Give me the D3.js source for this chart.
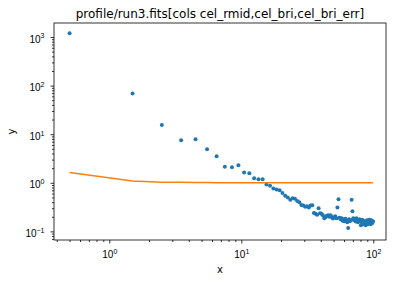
<!DOCTYPE html>
<html>
<head>
<meta charset="utf-8">
<script src="https://cdn.jsdelivr.net/npm/d3@7"></script>
<style>
  body { margin: 0; background: #fff; }
  svg { display: block; font-family: "DejaVu Sans", sans-serif; }
</style>
</head>
<body>
<div id="chart"></div>
<script>
var title = "profile/run3.fits[cols cel_rmid,cel_bri,cel_bri_err]"

// cel_rmid
var rmid = [
    0.5, 1.5, 2.5, 3.5, 4.5, 5.5, 6.5, 7.5, 8.5, 9.5,
    10.5, 11.5, 12.5, 13.5, 14.5, 15.5, 16.5, 17.5, 18.5, 19.5,
    20.5, 21.5, 22.5, 23.5, 24.5, 25.5, 26.5, 27.5, 28.5, 29.5,
    30.5, 31.5, 32.5, 33.5, 34.5, 35.5, 36.5, 37.5, 38.5, 39.5,
    40.5, 41.5, 42.5, 43.5, 44.5, 45.5, 46.5, 47.5, 48.5, 49.5,
    50.5, 51.5, 52.5, 53.5, 54.5, 55.5, 56.5, 57.5, 58.5, 59.5,
    60.5, 61.5, 62.5, 63.5, 64.5, 65.5, 66.5, 67.5, 68.5, 69.5,
    70.5, 71.5, 72.5, 73.5, 74.5, 75.5, 76.5, 77.5, 78.5, 79.5,
    80.5, 81.5, 82.5, 83.5, 84.5, 85.5, 86.5, 87.5, 88.5, 89.5,
    90.5, 91.5, 92.5, 93.5, 94.5, 95.5, 96.5, 97.5, 98.5, 99.5
]

// cel_bri
var bri = [
    1190, 69, 15.5, 7.5, 7.85, 4.9, 3.5, 2.15, 2.08, 2.29,
    1.62, 1.57, 1.24, 1.18, 1.18, 0.92, 0.87, 0.76, 0.73, 0.70,
    0.62, 0.54, 0.50, 0.45, 0.48, 0.47, 0.42, 0.40, 0.35, 0.34,
    0.32, 0.33, 0.31, 0.34, 0.345, 0.24, 0.23, 0.22, 0.30, 0.236,
    0.23, 0.215, 0.187, 0.196, 0.21, 0.215, 0.20, 0.215, 0.196, 0.184,
    0.196, 0.205, 0.187, 0.31, 0.46, 0.19, 0.178, 0.187, 0.166, 0.178,
    0.162, 0.183, 0.17, 0.155, 0.118, 0.178, 0.162, 0.17, 0.45, 0.26,
    0.187, 0.17, 0.178, 0.159, 0.187, 0.17, 0.155, 0.162, 0.178, 0.166,
    0.134, 0.155, 0.174, 0.14, 0.162, 0.148, 0.162, 0.134, 0.151, 0.17,
    0.14, 0.162, 0.148, 0.174, 0.155, 0.14, 0.17, 0.159, 0.148, 0.162
]

// cel_bri_err
var briErr = [
    1.62, 1.09, 1.03, 1.02, 1.01, 1.01, 1.0, 1.0, 1.0, 1.0,
    1.0, 1.0, 1.0, 1.0, 1.0, 1.0, 1.0, 1.0, 1.0, 1.0,
    1.0, 1.0, 1.0, 1.0, 1.0, 1.0, 1.0, 1.0, 1.0, 1.0,
    1.0, 1.0, 1.0, 1.0, 1.0, 1.0, 1.0, 1.0, 1.0, 1.0,
    1.0, 1.0, 1.0, 1.0, 1.0, 1.0, 1.0, 1.0, 1.0, 1.0,
    1.0, 1.0, 1.0, 1.0, 1.0, 1.0, 1.0, 1.0, 1.0, 1.0,
    1.0, 1.0, 1.0, 1.0, 1.0, 1.0, 1.0, 1.0, 1.0, 1.0,
    1.0, 1.0, 1.0, 1.0, 1.0, 1.0, 1.0, 1.0, 1.0, 1.0,
    1.0, 1.0, 1.0, 1.0, 1.0, 1.0, 1.0, 1.0, 1.0, 1.0,
    1.0, 1.0, 1.0, 1.0, 1.0, 1.0, 1.0, 1.0, 1.0, 1.0
]

var xMajor = [1, 10, 100]
var xExp = ["0", "1", "2"]
var yMajor = [0.1, 1, 10, 100, 1000]
var yExp = ["\u22121", "0", "1", "2", "3"]

var width = 394
var height = 282
var margin = {top: 23, right: 8, bottom: 42, left: 54}

var svg = d3.select("#chart").append("svg")
    .attr("width", width)
    .attr("height", height)

var x = d3.scaleLog()
    .domain([0.381, 124.8])
    .range([margin.left, width - margin.right])

var y = d3.scaleLog()
    .domain([0.0665, 1940])
    .range([height - margin.bottom, margin.top])

var isMajor = function(v) {
    var l = Math.log10(v)
    return Math.abs(l - Math.round(l)) < 1e-9
}

var xMinor = x.ticks().filter(function(v) { return !isMajor(v) })
var yMinor = y.ticks().filter(function(v) { return !isMajor(v) })

// minor ticks
svg.append("g")
    .attr("transform", "translate(0," + (height - margin.bottom) + ")")
    .call(d3.axisBottom(x).tickValues(xMinor).tickSize(2).tickFormat(""))
    .call(function(g) { g.select(".domain").remove() })
svg.append("g")
    .attr("transform", "translate(" + margin.left + ",0)")
    .call(d3.axisLeft(y).tickValues(yMinor).tickSize(2).tickFormat(""))
    .call(function(g) { g.select(".domain").remove() })

// major ticks
var gx = svg.append("g")
    .attr("transform", "translate(0," + (height - margin.bottom) + ")")
    .call(d3.axisBottom(x).tickValues(xMajor).tickSize(3.5).tickPadding(3.5).tickFormat(""))
gx.select(".domain").remove()
gx.selectAll(".tick text").remove()
gx.selectAll(".tick").append("text")
    .attr("y", 18.3)
    .attr("text-anchor", "middle")
    .attr("fill", "#000")
    .style("font-size", "10px")
    .each(function(d, i) {
        var t = d3.select(this)
        t.append("tspan").text("10")
        t.append("tspan").attr("dy", -4.2).style("font-size", "7px").text(xExp[i])
    })

var gy = svg.append("g")
    .attr("transform", "translate(" + margin.left + ",0)")
    .call(d3.axisLeft(y).tickValues(yMajor).tickSize(3.5).tickFormat(""))
gy.select(".domain").remove()
gy.selectAll(".tick text").remove()
gy.selectAll(".tick").append("text")
    .attr("x", -9.5)
    .attr("y", 5.2)
    .attr("text-anchor", "end")
    .attr("fill", "#000")
    .style("font-size", "10px")
    .each(function(d, i) {
        var t = d3.select(this)
        t.append("tspan").text("10")
        t.append("tspan").attr("dy", -4.2).style("font-size", "7px").text(yExp[i])
    })

svg.selectAll(".tick line").attr("stroke", "#000").attr("stroke-width", 0.8)

// data
var pts = rmid.map(function(r, i) { return {x: r, y: bri[i], e: briErr[i]} })

var clip = svg.append("clipPath").attr("id", "clip").append("rect")
    .attr("x", margin.left).attr("y", margin.top)
    .attr("width", width - margin.left - margin.right)
    .attr("height", height - margin.top - margin.bottom)

var plot = svg.append("g").attr("clip-path", "url(#clip)")

plot.selectAll("circle")
    .data(pts)
    .enter().append("circle")
    .attr("cx", function(d) { return x(d.x) })
    .attr("cy", function(d) { return y(d.y) })
    .attr("r", 2)
    .attr("fill", "#1f77b4")

var line = d3.line()
    .x(function(d) { return x(d.x) })
    .y(function(d) { return y(d.e) })

plot.append("path")
    .datum(pts)
    .attr("d", line)
    .attr("fill", "none")
    .attr("stroke", "#ff7f0e")
    .attr("stroke-width", 1.5)

// frame
svg.append("rect")
    .attr("x", margin.left).attr("y", margin.top)
    .attr("width", width - margin.left - margin.right)
    .attr("height", height - margin.top - margin.bottom)
    .attr("fill", "none")
    .attr("stroke", "#000")
    .attr("stroke-width", 0.8)

// labels
svg.append("text")
    .attr("x", (margin.left + width - margin.right) / 2)
    .attr("y", 17.5)
    .attr("text-anchor", "middle")
    .style("font-size", "12px")
    .text(title)

svg.append("text")
    .attr("x", (margin.left + width - margin.right) / 2)
    .attr("y", 273)
    .attr("text-anchor", "middle")
    .style("font-size", "10px")
    .text("x")

svg.append("text")
    .attr("transform", "translate(15," + ((margin.top + height - margin.bottom) / 2) + ") rotate(-90)")
    .attr("text-anchor", "middle")
    .style("font-size", "10px")
    .text("y")
</script>
</body>
</html>
